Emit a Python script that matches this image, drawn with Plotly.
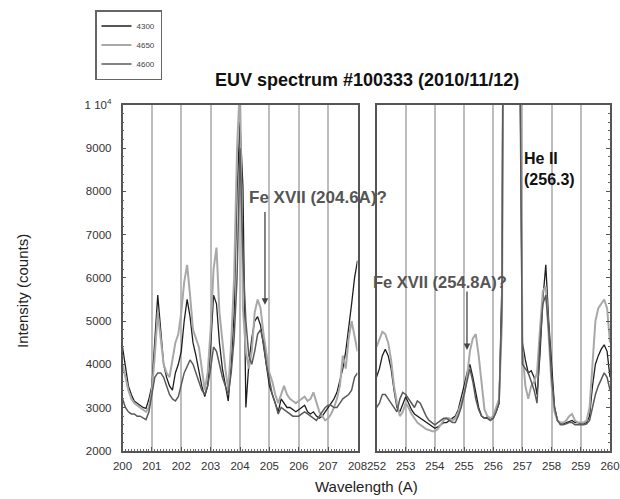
import plotly.graph_objects as go

# ---------------- data ----------------
series_names = ["4300", "4650", "4600"]

wl_left = [round(200 + 0.1 * i, 1) for i in range(81)]
wl_right = [round(252 + 0.1 * i, 1) for i in range(81)]

left_4300 = [4400, 3900, 3500, 3300, 3150, 3100, 3050, 3000, 2980, 3200,
             3500, 4500, 5600, 4800, 4000, 3700, 3500, 3400, 3800, 4000,
             4300, 5000, 5500, 5100, 4500, 4200, 3800, 3500, 3250, 3500,
             4400, 5600, 5400, 4500, 3900, 3500, 3150, 4000, 5200, 8000,
             9600, 8100, 3000, 4000, 4600, 5000, 5100, 4900, 4400, 3900,
             3500, 3300, 3100, 2900, 3200, 3100, 3000, 3000, 2950, 2900,
             2950, 3000, 3050, 2900, 2850, 2900, 2800, 2750, 2800, 2900,
             3000, 3100, 3200, 3350, 3600, 3900, 4300, 4800, 5400, 6000,
             6400]
left_4650 = [4000, 3700, 3400, 3200, 3100, 3050, 3000, 2950, 2900, 3000,
             3400, 4200, 5200, 4600, 4000, 3800, 3700, 4100, 4500, 4700,
             5200, 5900, 6300, 5600, 4800, 4600, 4400, 3900, 3400, 3800,
             4800, 6200, 6700, 5200, 4500, 3900, 3400, 4500, 6000, 9000,
             10500, 5300, 4300, 3900, 4300, 5200, 5500, 5300, 4700, 4200,
             3800, 3600, 3300, 3100, 3300, 3500, 3300, 3200, 3150, 3100,
             3150, 3200, 3250, 3150, 3200, 3350, 3100, 2900, 2800, 2700,
             2750, 2850, 3000, 3200, 3500, 4200, 3900, 4600, 5000, 4600,
             4300]
left_4600 = [3200, 3000, 2900, 2850, 2850, 2800, 2800, 2750, 2720, 2900,
             3300, 3700, 3800, 3800, 3700, 3500, 3300, 3200, 3150, 3250,
             3500, 3800, 3950, 4100, 4000, 3800, 3600, 3400, 3300, 3500,
             3900, 4400, 4300, 4000, 3700, 3500, 3300, 3800, 4600, 6000,
             9000, 6500, 5000, 4200, 4000, 4300, 4700, 4800, 4500, 4000,
             3600, 3300, 3100, 2850, 3000, 2950, 2900, 2850, 2800, 2800,
             2800, 2850, 2900, 2850, 2800, 2750, 2700, 2800, 2900, 3000,
             3050, 3050, 3000, 3000, 3100, 3200, 3250, 3300, 3400, 3700,
             3800]

right_4300 = [3700, 3900, 4200, 4350, 4200, 3900, 3400, 3000, 2900, 3100,
              3250, 3100, 2950, 2850, 2800, 2750, 2700, 2650, 2600, 2550,
              2520, 2550, 2600, 2650, 2650, 2700, 2750, 2800, 2950, 3200,
              3500, 3800, 4000, 3700, 3300, 3000, 2800, 2750, 2780, 2750,
              2750, 2900, 3100, 6000, 25000, 30000, 30000, 28000, 20000, 12000,
              4500, 4100, 3800, 3850, 3700, 3300, 4200, 5500, 6300, 5000,
              3900, 3000, 2700, 2620, 2620, 2650, 2680, 2700, 2650, 2650,
              2620, 2620, 2650, 2800, 3500, 4000, 4200, 4350, 4450, 4300,
              3700]
right_4650 = [4400, 4600, 4750, 4700, 4500, 4100, 3500, 3100, 2800, 2900,
              3100, 3000, 2850, 2750, 2650, 2600, 2550, 2500, 2480, 2450,
              2450, 2500, 2600, 2700, 2750, 2750, 2700, 2750, 2900, 3100,
              3300, 3700, 4300, 4600, 4700, 4200, 3600, 2950, 2800, 2750,
              2800, 3000, 3200, 5000, 20000, 30000, 30000, 28000, 22000, 15000,
              4300, 3500, 3200, 3500, 3600, 3800, 4800, 5700, 5800, 4600,
              3500, 2900, 2700, 2650, 2650, 2700, 2800, 2850, 2700, 2650,
              2650, 2650, 2700, 3000, 4000, 5000, 5300, 5400, 5500, 5300,
              4500]
right_4600 = [3000, 3100, 3300, 3300, 3200, 3100, 3000, 2900, 3200, 3350,
              3300, 3200, 3100, 3000, 3150, 3100, 2950, 2800, 2700, 2650,
              2600, 2650, 2700, 2750, 2750, 2700, 2650, 2650, 2800, 3000,
              3300, 3600, 3900, 3600, 3200, 2950, 2800, 2750, 2750, 2700,
              2750, 2900, 3100, 5500, 22000, 30000, 30000, 27000, 20000, 11000,
              4000, 3900, 3800, 3600, 3400, 3100, 4500, 5400, 5600, 4800,
              3700, 3000, 2700, 2600, 2600, 2620, 2650, 2650, 2600, 2600,
              2600, 2600, 2620, 2700, 3000, 3300, 3500, 3650, 3800, 3700,
              3400]

left_ticks = [200, 201, 202, 203, 204, 205, 206, 207, 208]
right_ticks = [252, 253, 254, 255, 256, 257, 258, 259, 260]
y_ticks = [2000, 3000, 4000, 5000, 6000, 7000, 8000, 9000, 10000]
y_tick_text = ["2000", "3000", "4000", "5000", "6000", "7000", "8000", "9000", "1 10<sup>4</sup>"]

# ---------------- style ----------------
colors = ["#1e1e1e", "#a8a8a8", "#5a5a5a"]
widths = [1.3, 2.0, 1.5]
FONT = "Liberation Sans, Arial, sans-serif"
W, H = 620, 499

left_sets = [left_4300, left_4650, left_4600]
right_sets = [right_4300, right_4650, right_4600]

fig = go.Figure()
for i, name in enumerate(series_names):
    fig.add_trace(go.Scatter(x=wl_left, y=left_sets[i], mode="lines", name=name,
                             line=dict(color=colors[i], width=widths[i]),
                             xaxis="x", yaxis="y", cliponaxis=True))
for i, name in enumerate(series_names):
    fig.add_trace(go.Scatter(x=wl_right, y=right_sets[i], mode="lines", name=name,
                             line=dict(color=colors[i], width=widths[i]),
                             xaxis="x2", yaxis="y2", showlegend=False,
                             cliponaxis=True))

def px_x(p):
    return p / W

def px_y(p):
    return 1 - p / H

tickfont = dict(family=FONT, size=11.5, color="#333")
axis_common = dict(showline=True, linecolor="#555", linewidth=1.5, mirror=True,
                   ticks="inside", ticklen=4, tickcolor="#555", tickfont=tickfont,
                   zeroline=False, automargin=False)

fig.update_layout(
    width=W, height=H,
    margin=dict(l=0, r=0, t=0, b=0, autoexpand=False),
    paper_bgcolor="white", plot_bgcolor="white",
    font=dict(family=FONT, size=10, color="#222"),
    xaxis=dict(domain=[px_x(122.5), px_x(357.5)], range=[200, 208], tickvals=left_ticks,
               showgrid=True, gridcolor="#bdbdbd", gridwidth=2, ticklabelstandoff=4,
               minor=dict(dtick=0.1, ticks="inside", ticklen=2, tickcolor="#666", showgrid=False),
               anchor="y", **axis_common),
    yaxis=dict(domain=[px_y(450.7), px_y(105)], range=[2000, 10000], tickvals=y_ticks,
               ticktext=y_tick_text, showgrid=False, ticklabelstandoff=7,
               minor=dict(dtick=200, ticks="inside", ticklen=2, tickcolor="#666"),
               anchor="x", **axis_common),
    xaxis2=dict(domain=[px_x(376.5), px_x(610)], range=[252, 260], tickvals=right_ticks,
                showgrid=True, gridcolor="#bdbdbd", gridwidth=2, ticklabelstandoff=4,
                minor=dict(dtick=0.1, ticks="inside", ticklen=2, tickcolor="#666", showgrid=False),
                anchor="y2", **axis_common),
    yaxis2=dict(domain=[px_y(450.7), px_y(105)], range=[2000, 10000], tickvals=y_ticks,
                showticklabels=False, showgrid=False, side="right",
                minor=dict(dtick=200, ticks="inside", ticklen=2, tickcolor="#666"),
                anchor="x2", **axis_common),
    legend=dict(x=px_x(95), y=px_y(10), xanchor="left", yanchor="top",
                bordercolor="#666", borderwidth=1.5, bgcolor="white",
                font=dict(family=FONT, size=8, color="#444"),
                itemwidth=30, tracegroupgap=0),
    showlegend=True,
)

annotations = [
    dict(text="<b>EUV spectrum #100333 (2010/11/12)</b>", x=px_x(367), y=px_y(80),
         xref="paper", yref="paper", showarrow=False,
         font=dict(family=FONT, size=18, color="#111"), xanchor="center", yanchor="middle"),
    dict(text="Intensity (counts)", x=px_x(22), y=px_y(291), xref="paper", yref="paper",
         showarrow=False, textangle=-90, font=dict(family=FONT, size=15, color="#222"),
         xanchor="center", yanchor="middle"),
    dict(text="Wavelength (A)", x=px_x(366), y=px_y(486), xref="paper", yref="paper",
         showarrow=False, font=dict(family=FONT, size=15, color="#222"),
         xanchor="center", yanchor="middle"),
    dict(text="<b>Fe XVII (204.6A)?</b>", x=px_x(247), y=px_y(198), xref="paper", yref="paper",
         showarrow=False, font=dict(family=FONT, size=17, color="#555"),
         xanchor="left", yanchor="middle"),
    dict(text="<b>Fe XVII (254.8A)?</b>", x=px_x(371), y=px_y(282), xref="paper", yref="paper",
         showarrow=False, font=dict(family=FONT, size=16.5, color="#555"),
         xanchor="left", yanchor="middle"),
    dict(text="<b>He II<br>(256.3)</b>", x=px_x(522), y=px_y(169), xref="paper", yref="paper",
         showarrow=False, font=dict(family=FONT, size=16, color="#111"),
         xanchor="left", yanchor="middle", align="left"),
    dict(text="", x=204.85, y=5380, xref="x", yref="y", ax=204.85, ay=7560, axref="x", ayref="y",
         showarrow=True, arrowhead=2, arrowsize=1, arrowwidth=1.3, arrowcolor="#444"),
    dict(text="", x=255.1, y=4330, xref="x2", yref="y2", ax=255.1, ay=5720, axref="x2", ayref="y2",
         showarrow=True, arrowhead=2, arrowsize=1, arrowwidth=1.3, arrowcolor="#444"),
]
fig.update_layout(annotations=annotations)

fig.write_html("out.html", config={"displayModeBar": False},
               post_script="document.body.style.margin='0';")
